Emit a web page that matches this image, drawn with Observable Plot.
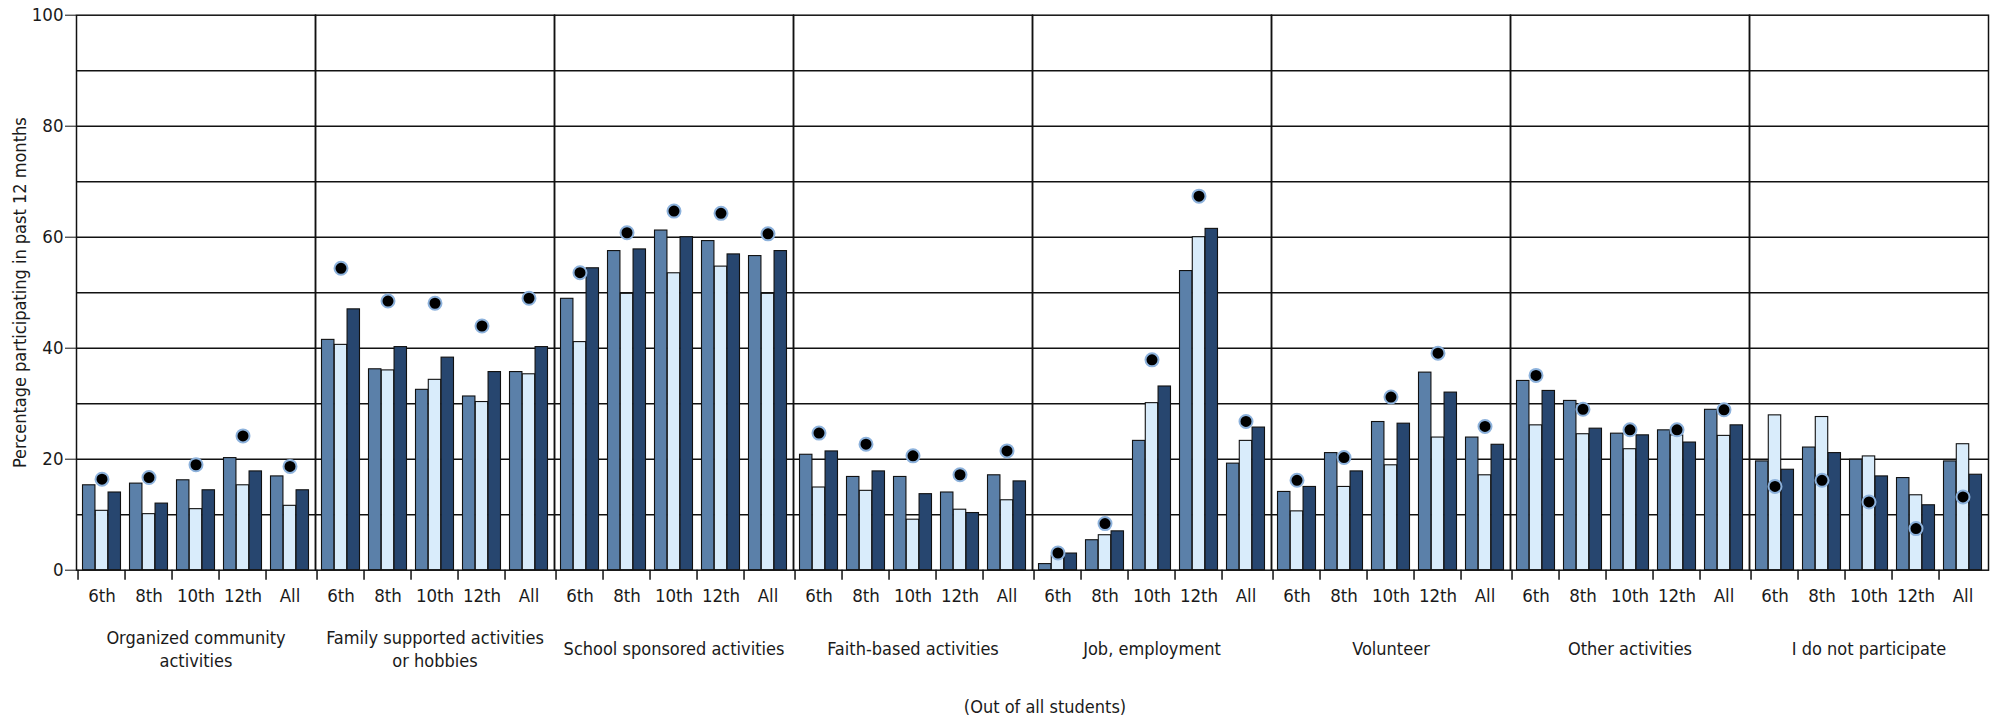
<!DOCTYPE html>
<html>
<head>
<meta charset="utf-8">
<script src="https://cdn.jsdelivr.net/npm/d3@7"></script>
<script src="https://cdn.jsdelivr.net/npm/@observablehq/plot@0.6"></script>
<style>
  html, body { margin: 0; padding: 0; background: #fff; }
  #wrap { position: relative; width: 2001px; height: 724px; }
  #note { position: absolute; left: 845px; width: 400px; top: 696px; text-align: center;
          font-family: "Liberation Sans Narrow", "DejaVu Sans Condensed", "Roboto", sans-serif;
          font-size: 18px; color: #1a1a1a; }
</style>
</head>
<body>
<div id="wrap"><div id="chart"></div><div id="note">(Out of all students)</div></div>
<script>
const categories = ["Organized community activities", "Family supported activities or hobbies", "School sponsored activities", "Faith-based activities", "Job, employment", "Volunteer", "Other activities", "I do not participate"];
const categoryLabels = ["Organized community\nactivities", "Family supported activities\nor hobbies", "School sponsored activities", "Faith-based activities", "Job, employment", "Volunteer", "Other activities", "I do not participate"];
const grades = ["6th", "8th", "10th", "12th", "All"];
const seriesNames = ["Series 1", "Series 2", "Series 3"];
const yTitle = "Percentage participating in past 12 months";
// values per category, in grade order
const series1 = [
  [15.3, 15.6, 16.2, 20.2, 16.9],
  [41.5, 36.2, 32.5, 31.3, 35.7],
  [48.9, 57.5, 61.2, 59.3, 56.6],
  [20.8, 16.8, 16.8, 14.0, 17.1],
  [1.1, 5.4, 23.3, 53.9, 19.2],
  [14.1, 21.1, 26.7, 35.6, 23.9],
  [34.1, 30.5, 24.6, 25.2, 28.9],
  [19.6, 22.1, 19.9, 16.6, 19.6]
];
const series2 = [
  [10.7, 10.1, 11.0, 15.3, 11.6],
  [40.6, 36.0, 34.3, 30.3, 35.3],
  [41.1, 49.8, 53.5, 54.7, 49.8],
  [14.9, 14.3, 9.1, 10.9, 12.6],
  [2.6, 6.3, 30.1, 60.0, 23.3],
  [10.6, 15.0, 18.9, 23.9, 17.1],
  [26.1, 24.5, 21.8, 24.3, 24.2],
  [27.9, 27.6, 20.5, 13.5, 22.7]
];
const series3 = [
  [14.0, 12.0, 14.4, 17.8, 14.4],
  [47.0, 40.2, 38.3, 35.7, 40.2],
  [54.4, 57.8, 60.0, 56.9, 57.5],
  [21.4, 17.8, 13.7, 10.3, 16.0],
  [3.0, 7.0, 33.1, 61.5, 25.7],
  [15.0, 17.8, 26.4, 32.0, 22.6],
  [32.3, 25.5, 24.3, 23.0, 26.1],
  [18.1, 21.1, 16.9, 11.7, 17.2]
];
const dotValues = [
  [16.4, 16.7, 19.0, 24.2, 18.7],
  [54.4, 48.5, 48.1, 44.0, 49.0],
  [53.6, 60.8, 64.7, 64.3, 60.6],
  [24.7, 22.7, 20.6, 17.2, 21.5],
  [3.1, 8.4, 37.9, 67.4, 26.8],
  [16.2, 20.3, 31.2, 39.1, 25.9],
  [35.1, 29.0, 25.3, 25.3, 28.9],
  [15.1, 16.2, 12.3, 7.5, 13.2]
];
const yTicks = [0, 20, 40, 60, 80, 100];
const yGrid = [10, 20, 30, 40, 50, 60, 70, 80, 90];

const seriesArrays = [series1, series2, series3];
const bars = [];
seriesArrays.forEach((arr, s) => arr.forEach((vals, c) => vals.forEach((v, g) =>
  bars.push({series: seriesNames[s], cat: categories[c], grade: grades[g], value: v}))));
const dots = [];
dotValues.forEach((vals, c) => vals.forEach((v, g) => dots.push({cat: categories[c], grade: grades[g], value: v})));

const W = 2001, H = 690;
const mL = 73.5, mR = 10.3, mT = 14.7, mB = H - 569.7;
const step = (W - mL - mR) / (categories.length * grades.length);
const bw = step * 0.8;
const third = bw / 3;
const font = '"Liberation Sans Narrow", "DejaVu Sans Condensed", "Roboto", sans-serif';
const colors = ["#5b80a9", "#d9ecfb", "#27466f"];
const insets = [[0, 2 * third], [third, third], [2 * third, 0]];

const chart = Plot.plot({
  width: W, height: H,
  marginLeft: mL, marginRight: mR, marginTop: mT, marginBottom: mB,
  style: {fontFamily: font, fontSize: "18px", color: "#1a1a1a", background: "#fff"},
  fx: {domain: categories, padding: 0, axis: null},
  x: {domain: grades, paddingInner: 0.2, paddingOuter: 0.1, axis: null},
  y: {domain: [0, 100], axis: null},
  marks: [
    Plot.ruleY(yGrid, {stroke: "#111", strokeWidth: 1.4}),
    ...seriesNames.map((name, s) => Plot.barY(bars.filter(d => d.series === name), {
      fx: "cat", x: "grade", y: "value",
      fill: colors[s], stroke: "#111", strokeWidth: 1.1,
      insetLeft: insets[s][0], insetRight: insets[s][1]
    })),
    Plot.dot(dots, {fx: "cat", x: "grade", y: "value", r: 6.5, fill: "#000", stroke: "#8db2dc", strokeWidth: 2}),
    Plot.frame({stroke: "#111", strokeWidth: 1.5}),
    Plot.axisY({ticks: yTicks, tickSize: 11, tickPadding: 2, fontSize: 18.5, stroke: "#111", label: null}),
    Plot.text([yTitle], {fx: () => categories[0], text: d => d, frameAnchor: "left", textAnchor: "middle",
      rotate: -90, dx: -56.5, fontSize: 18, fill: "#1a1a1a"}),
    Plot.axisX({tickSize: 0, tickPadding: 19, fontSize: 18.5, label: null}),
    Plot.axisX({tickSize: 10, tickFormat: () => "", dx: -step / 2, label: null, stroke: "#111", strokeWidth: 1.5}),
    Plot.text(categories, {fx: d => d, text: d => categoryLabels[categories.indexOf(d)],
      frameAnchor: "bottom", dy: 78, lineAnchor: "middle", lineHeight: 1.25, fontSize: 18, fill: "#1a1a1a"})
  ]
});
document.getElementById("chart").appendChild(chart);
</script>
</body>
</html>
